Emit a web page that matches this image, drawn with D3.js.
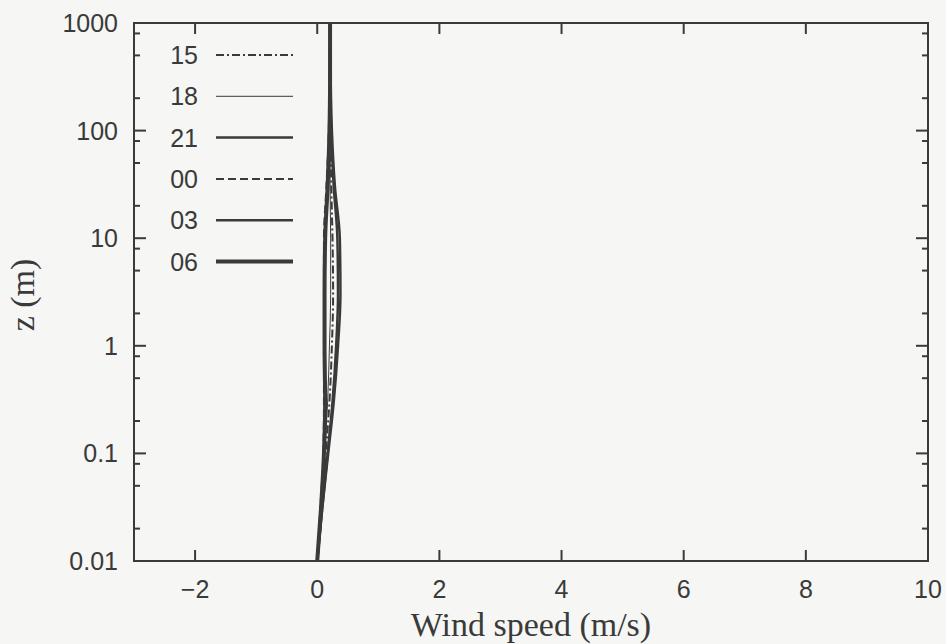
<!DOCTYPE html>
<html>
<head>
<meta charset="utf-8">
<script src="https://cdn.jsdelivr.net/npm/d3@7"></script>
<style>
  body { margin: 0; background: #f6f6f4; }
  svg { display: block; }
</style>
</head>
<body>
<div id="chart"></div>
<script>
var margin = {top: 23, right: 18, bottom: 83, left: 134},
    width = 946 - margin.left - margin.right,
    height = 644 - margin.top - margin.bottom;

// heights (m) and wind speed profiles (m/s) per hour
var heights = [0.01, 0.03, 0.1, 0.3, 1, 3, 10, 30, 100, 300, 1000];
var hours = ["15", "18", "21", "00", "03", "06"];
var u15 = [0, 0.07, 0.14, 0.20, 0.24, 0.26, 0.25, 0.23, 0.22, 0.21, 0.21];
var u18 = [0, 0.06, 0.12, 0.17, 0.20, 0.22, 0.22, 0.21, 0.21, 0.21, 0.21];
var u21 = [0, 0.08, 0.17, 0.25, 0.31, 0.34, 0.33, 0.27, 0.23, 0.21, 0.21];
var u00 = [0, 0.05, 0.10, 0.11, 0.11, 0.11, 0.11, 0.15, 0.19, 0.20, 0.21];
var u03 = [0, 0.08, 0.18, 0.27, 0.34, 0.38, 0.37, 0.29, 0.24, 0.22, 0.21];
var u06 = [0, 0.06, 0.11, 0.13, 0.12, 0.12, 0.13, 0.17, 0.20, 0.21, 0.21];
var xTicks = [-2, 0, 2, 4, 6, 8, 10];
var yTicks = [0.01, 0.1, 1, 10, 100, 1000];
var yMinor = [0.02, 0.05, 0.08, 0.2, 0.5, 0.8, 2, 5, 8, 20, 50, 80, 200, 500, 800];

var styles = {
  "15": {w: 2, dash: "8,3,2,3"},
  "18": {w: 1, dash: null},
  "21": {w: 2.5, dash: null},
  "00": {w: 2, dash: "8,4"},
  "03": {w: 2.5, dash: null},
  "06": {w: 4, dash: null}
};
var series = [u15, u18, u21, u00, u03, u06];

var ink = "#3a3a3a";

var svg = d3.select("#chart").append("svg")
    .attr("width", 946).attr("height", 644);
var g = svg.append("g").attr("transform", "translate(" + margin.left + "," + margin.top + ")");

var x = d3.scaleLinear().domain([-3, 10]).range([0, width]);
var y = d3.scaleLog().domain([0.01, 1000]).range([height, 0]);

// ticks
function ticks(sel, vals, len, side) {
  sel.selectAll(null).data(vals).enter().append("line")
    .attr("stroke", ink).attr("stroke-width", 2)
    .each(function(d) {
      var s = d3.select(this);
      if (side === "bottom") s.attr("x1", x(d)).attr("x2", x(d)).attr("y1", height).attr("y2", height - len);
      if (side === "top") s.attr("x1", x(d)).attr("x2", x(d)).attr("y1", 0).attr("y2", len);
      if (side === "left") s.attr("y1", y(d)).attr("y2", y(d)).attr("x1", 0).attr("x2", len);
      if (side === "right") s.attr("y1", y(d)).attr("y2", y(d)).attr("x1", width).attr("x2", width - len);
    });
}
var axes = g.append("g");
ticks(axes, xTicks.filter(function(d) { return d < 10; }), 11, "bottom");
ticks(axes, xTicks.filter(function(d) { return d < 10; }), 11, "top");
ticks(axes, yTicks, 12, "left");
ticks(axes, yTicks, 12, "right");
ticks(axes, yMinor, 6, "left");
ticks(axes, yMinor, 6, "right");

g.append("rect").attr("width", width).attr("height", height)
  .attr("fill", "none").attr("stroke", ink).attr("stroke-width", 2);

// tick labels
g.selectAll(".xl").data(xTicks).enter().append("text")
  .attr("x", function(d) { return x(d); }).attr("y", height + 37)
  .attr("text-anchor", "middle")
  .style("font-family", "'Liberation Sans', Arial, sans-serif").style("font-size", "25px")
  .attr("fill", ink)
  .text(function(d) { return d < 0 ? "\u2212" + Math.abs(d) : d; });

g.selectAll(".yl").data(yTicks).enter().append("text")
  .attr("x", -16).attr("y", function(d) { return y(d) + 9; })
  .attr("text-anchor", "end")
  .style("font-family", "'Liberation Sans', Arial, sans-serif").style("font-size", "25px")
  .attr("fill", ink)
  .text(function(d) { return d; });

// axis titles
svg.append("text").attr("x", 531).attr("y", 636)
  .attr("text-anchor", "middle")
  .style("font-family", "'Liberation Serif', 'Times New Roman', serif").style("font-size", "34px")
  .attr("fill", ink).text("Wind speed (m/s)");
svg.append("text").attr("transform", "translate(34,295) rotate(-90)")
  .attr("text-anchor", "middle")
  .style("font-family", "'Liberation Serif', 'Times New Roman', serif").style("font-size", "34px")
  .attr("fill", ink).text("z (m)");

// profiles
var line = d3.line()
  .x(function(d) { return x(d[0]); })
  .y(function(d) { return y(d[1]); })
  .curve(d3.curveMonotoneY);

series.forEach(function(vals, i) {
  var st = styles[hours[i]];
  g.append("path")
    .datum(vals.map(function(v, j) { return [v, heights[j]]; }))
    .attr("d", line)
    .attr("fill", "none")
    .attr("stroke", ink)
    .attr("stroke-width", st.w)
    .attr("stroke-dasharray", st.dash);
});

// legend
var legend = g.append("g").attr("transform", "translate(0,32)");
hours.forEach(function(h, i) {
  var st = styles[h];
  var row = legend.append("g").attr("transform", "translate(0," + (i * 41.3) + ")");
  row.append("text").attr("x", 64).attr("y", 9).attr("text-anchor", "end")
    .style("font-family", "'Liberation Sans', Arial, sans-serif").style("font-size", "25px")
    .attr("fill", ink).text(h);
  row.append("line").attr("x1", 82).attr("x2", 159).attr("y1", 0).attr("y2", 0)
    .attr("stroke", ink).attr("stroke-width", st.w).attr("stroke-dasharray", st.dash);
});
</script>
</body>
</html>
